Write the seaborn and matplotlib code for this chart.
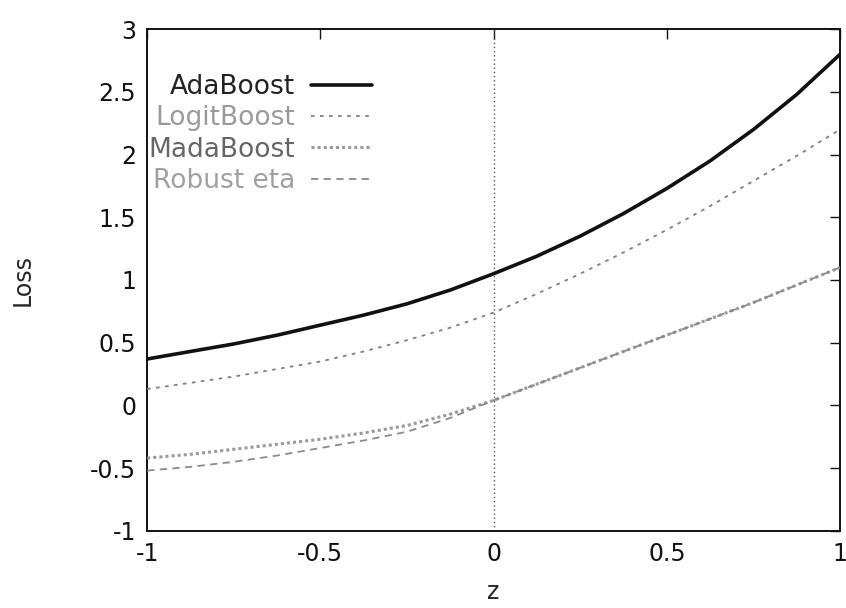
import numpy as np
import pandas as pd
import matplotlib
matplotlib.use("Agg")
import matplotlib.pyplot as plt
import seaborn as sns

z = [-1.0, -0.875, -0.75, -0.625, -0.5, -0.375, -0.25, -0.125, 0.0,
     0.125, 0.25, 0.375, 0.5, 0.625, 0.75, 0.875, 1.0]
adaboost = [0.37, 0.43, 0.49, 0.56, 0.64, 0.72, 0.81, 0.92, 1.05,
            1.19, 1.35, 1.53, 1.73, 1.95, 2.20, 2.48, 2.80]
logitboost = [0.13, 0.18, 0.23, 0.29, 0.35, 0.43, 0.52, 0.62, 0.74,
              0.89, 1.05, 1.22, 1.40, 1.59, 1.79, 1.99, 2.20]
madaboost = [-0.42, -0.39, -0.35, -0.31, -0.27, -0.22, -0.16, -0.07, 0.04,
             0.17, 0.30, 0.43, 0.56, 0.69, 0.82, 0.96, 1.10]
robust_eta = [-0.52, -0.49, -0.45, -0.40, -0.34, -0.28, -0.21, -0.10, 0.04,
              0.17, 0.30, 0.43, 0.56, 0.69, 0.82, 0.96, 1.10]
names = ["AdaBoost", "LogitBoost", "MadaBoost", "Robust eta"]
xticks = [-1, -0.5, 0, 0.5, 1]
yticks = [-1, -0.5, 0, 0.5, 1, 1.5, 2, 2.5, 3]

sns.set_style("white")
plt.rcParams["font.family"] = ["DejaVu Sans"]

df = pd.concat([
    pd.DataFrame({"z": z, "Loss": v, "method": n})
    for n, v in zip(names, [adaboost, logitboost, madaboost, robust_eta])
])

fig = plt.figure(figsize=(8.46, 6.08), dpi=100)
ax = fig.add_axes([0.174, 0.127, 0.819, 0.825])

styles = {
    "AdaBoost": dict(color="#111111", lw=2.6, ls="-"),
    "LogitBoost": dict(color="#808080", lw=1.3, ls=(0, (2, 3))),
    "MadaBoost": dict(color="#9a9a9a", lw=2.2, ls=(0, (1, 1))),
    "Robust eta": dict(color="#8a8a8a", lw=1.3, ls=(0, (4, 3))),
}
ax.axvline(0, color="#555555", lw=1.0, ls=(0, (1, 2)), zorder=1)
for n in names:
    sub = df[df["method"] == n]
    sns.lineplot(data=sub, x="z", y="Loss", ax=ax, label=n,
                 color=styles[n]["color"], linewidth=styles[n]["lw"],
                 linestyle=styles[n]["ls"], zorder=3)

ax.set_xlim(-1, 1)
ax.set_ylim(-1, 3)
ax.set_xticks(xticks)
ax.set_xticklabels(["-1", "-0.5", "0", "0.5", "1"])
ax.set_yticks(yticks)
ax.set_yticklabels(["-1", "-0.5", "0", "0.5", "1", "1.5", "2", "2.5", "3"])
ax.tick_params(direction="in", length=7, width=1, top=True, right=True,
               labelsize=17, colors="#111111", pad=8)
for s in ax.spines.values():
    s.set_color("#111111")
    s.set_linewidth(1.4)
ax.set_xlabel("z", fontsize=17, labelpad=10)
ax.set_ylabel("Loss", fontsize=17, labelpad=40)

leg = ax.legend(loc="upper left", bbox_to_anchor=(-0.017, 0.937), frameon=False,
                markerfirst=False, fontsize=19, handlelength=2.3,
                handletextpad=0.6, labelspacing=0.2, borderpad=0)
tcols = ["#222222", "#9a9a9a", "#666666", "#a0a0a0"]
for t, c in zip(leg.get_texts(), tcols):
    t.set_color(c)

fig.savefig("out.png", dpi=100)
